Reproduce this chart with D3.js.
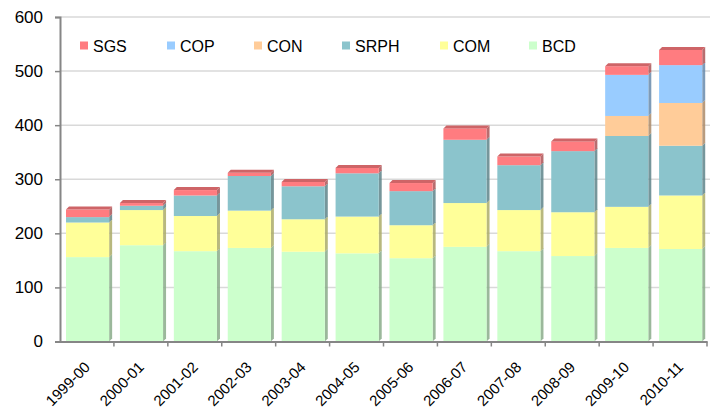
<!DOCTYPE html>
<html>
<head>
<meta charset="utf-8">
<script src="https://cdn.jsdelivr.net/npm/d3@7"></script>
<style>
  body { margin: 0; background: #fff; }
  svg { display: block; font-family: "Liberation Sans", Arial, sans-serif; }
</style>
</head>
<body>
<div id="chart"></div>
<script>
// values
const years = ["1999-00", "2000-01", "2001-02", "2002-03", "2003-04", "2004-05",
               "2005-06", "2006-07", "2007-08", "2008-09", "2009-10", "2010-11"];
const BCD  = [156, 178, 167, 173, 166, 163, 154, 175, 167, 158, 173, 171];
const COM  = [64, 65, 65, 69, 60, 68, 61, 81, 76, 81, 76, 99];
const SRPH = [10, 8, 38, 64, 61, 80, 63, 117, 83, 113, 131, 92];
const CON  = [0, 0, 0, 0, 0, 0, 0, 0, 0, 0, 37, 79];
const COP  = [0, 0, 0, 0, 0, 0, 0, 0, 0, 0, 76, 70];
const SGS  = [14, 5, 10, 6, 8, 10, 15, 21, 16, 18, 16, 28];
const yTicks = [0, 100, 200, 300, 400, 500, 600];
const legendOrder = ["SGS", "COP", "CON", "SRPH", "COM", "BCD"];

const series = {BCD, COM, SRPH, CON, COP, SGS};
const keys = ["BCD", "COM", "SRPH", "CON", "COP", "SGS"];
const colors = {
  SGS: "#ff7c80", COP: "#99ccff", CON: "#ffcc99",
  SRPH: "#8bc4cc", COM: "#ffff99", BCD: "#ccffcc"
};

const rows = years.map((y, i) => {
  const r = {year: y};
  keys.forEach(k => r[k] = series[k][i]);
  return r;
});

const width = 710, height = 408;
const margin = {top: 17, right: 3, bottom: 66.5, left: 60};

const svg = d3.select("#chart").append("svg")
  .attr("width", width)
  .attr("height", height);

const x = d3.scaleBand()
  .domain(years)
  .range([margin.left, width - margin.right])
  .padding(0);

const y = d3.scaleLinear()
  .domain([0, 600])
  .range([height - margin.bottom, margin.top]);

// gridlines
svg.append("g")
  .selectAll("line")
  .data(yTicks.filter(t => t > 0))
  .enter().append("line")
  .attr("x1", margin.left)
  .attr("x2", width)
  .attr("y1", d => y(d))
  .attr("y2", d => y(d))
  .attr("stroke", "#d9d9d9")
  .attr("stroke-width", 1.5);

const stacked = d3.stack().keys(keys)(rows);

const depth = 3;
const barOff = 6;
const barW = x.bandwidth() * 0.8;

const bars = svg.append("g");
stacked.forEach(layer => {
  const col = colors[layer.key];
  const side = d3.color(col).darker(1.1).formatHex();
  layer.forEach((d, i) => {
    if (d[1] - d[0] <= 0) return;
    const x0 = x(years[i]) + barOff;
    const yTop = y(d[1]), yBot = y(d[0]);
    // side face
    bars.append("path")
      .attr("d", `M${x0 + barW},${yBot} L${x0 + barW + depth},${yBot - depth} L${x0 + barW + depth},${yTop - depth} L${x0 + barW},${yTop} Z`)
      .attr("fill", side)
      .attr("opacity", 0.85);
    // front face
    bars.append("rect")
      .attr("x", x0)
      .attr("y", yTop)
      .attr("width", barW)
      .attr("height", yBot - yTop)
      .attr("fill", col);
  });
});

// top faces on the topmost segment
const topLayer = stacked[stacked.length - 1];
topLayer.forEach((d, i) => {
  const x0 = x(years[i]) + barOff;
  const yTop = y(d[1]);
  bars.append("path")
    .attr("d", `M${x0},${yTop} L${x0 + depth},${yTop - depth} L${x0 + barW + depth},${yTop - depth} L${x0 + barW},${yTop} Z`)
    .attr("fill", d3.color(colors.SGS).darker(0.6).formatHex());
});

// y axis
const yAxis = svg.append("g")
  .attr("transform", `translate(${margin.left},0)`)
  .call(d3.axisLeft(y).tickValues(yTicks).tickSize(5).tickPadding(12));
yAxis.select(".domain").attr("stroke", "#868686").attr("stroke-width", 2);
yAxis.selectAll(".tick line").attr("stroke", "#868686").attr("stroke-width", 1.5);
yAxis.selectAll(".tick text")
  .attr("font-size", 17)
  .attr("fill", "#000")
  .attr("font-family", "Liberation Sans, Arial, sans-serif");

// x axis
const xAxis = svg.append("g")
  .attr("transform", `translate(0,${y(0)})`)
  .call(d3.axisBottom(x).tickSize(0).tickSizeOuter(0));
xAxis.select(".domain").attr("stroke", "#868686").attr("stroke-width", 2);
xAxis.selectAll(".tick text")
  .attr("font-size", 15)
  .attr("fill", "#000")
  .attr("font-family", "Liberation Sans, Arial, sans-serif")
  .attr("text-anchor", "end")
  .attr("y", 0)
  .attr("dy", 0)
  .attr("transform", "translate(4,26.5) rotate(-45)");

// band boundary ticks
svg.append("g")
  .selectAll("line")
  .data(years.slice(1).concat(["end"]))
  .enter().append("line")
  .attr("x1", (d, i) => i < years.length - 1 ? x(d) : x(years[years.length - 1]) + x.bandwidth())
  .attr("x2", (d, i) => i < years.length - 1 ? x(d) : x(years[years.length - 1]) + x.bandwidth())
  .attr("y1", y(0))
  .attr("y2", y(0) + 5)
  .attr("stroke", "#868686")
  .attr("stroke-width", 1.5);

// legend
const legendX = [80, 167, 254, 342, 440, 529];
const legend = svg.append("g");
legendOrder.forEach((k, i) => {
  legend.append("rect")
    .attr("x", legendX[i])
    .attr("y", 41.5)
    .attr("width", 8)
    .attr("height", 8)
    .attr("fill", colors[k]);
  legend.append("text")
    .attr("x", legendX[i] + 13)
    .attr("y", 52)
    .attr("font-size", 16)
    .attr("fill", "#000")
    .text(k);
});
</script>
</body>
</html>
